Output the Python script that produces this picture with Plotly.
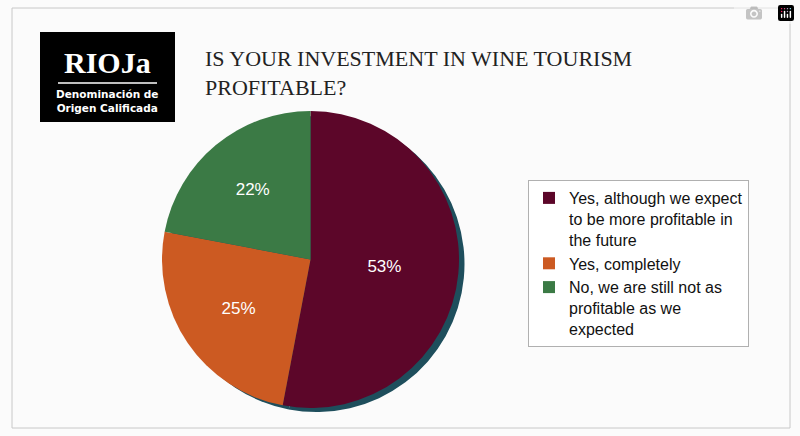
import plotly.graph_objects as go

labels = ["Yes, although we expect<br>to be more profitable in<br>the future", "Yes, completely",
          "No, we are still not as<br>profitable as we<br>expected"]
values = [53, 25, 22]
colors = ["#5c0629", "#cc5a22", "#3b7a45"]
text_labels = ["53%", "25%", "22%"]

W, H = 800, 436
def px(x): return x / W
def py(y): return 1 - y / H

fig = go.Figure()
fig.add_trace(go.Pie(values=values, sort=False, direction="clockwise", showlegend=False,
                     marker=dict(colors=["#1e4e5c"] * 3), textinfo="none", hoverinfo="skip",
                     domain=dict(x=[px(168), px(465)], y=[py(412), py(116)])))
fig.add_trace(go.Pie(labels=labels, values=values, sort=False, direction="clockwise",
                     marker=dict(colors=colors), text=text_labels, textinfo="text",
                     textposition="inside", insidetextorientation="horizontal",
                     textfont=dict(family="Liberation Sans, Arial", size=17, color="white"),
                     domain=dict(x=[px(162), px(459)], y=[py(408), py(111)])))

fig.update_layout(
    width=W, height=H, margin=dict(l=0, r=0, t=0, b=0),
    paper_bgcolor="#fbfbfb", plot_bgcolor="#fbfbfb",
    legend=dict(x=px(528), y=py(180), xanchor="left", yanchor="top", valign="top",
                bordercolor="#b0b0b0", borderwidth=1, bgcolor="white",
                font=dict(family="Liberation Sans, Arial", size=16, color="#111"),
                itemwidth=30, tracegroupgap=0),
    shapes=[
        dict(type="rect", xref="paper", yref="paper", x0=px(12), x1=px(790), y0=py(428), y1=py(8),
             line=dict(color="#c8c8c8", width=1), fillcolor="rgba(0,0,0,0)", layer="below"),
        dict(type="rect", xref="paper", yref="paper", x0=px(40), x1=px(175), y0=py(122), y1=py(32),
             line=dict(width=0), fillcolor="black"),
        dict(type="line", xref="paper", yref="paper", x0=px(58), x1=px(157), y0=py(83), y1=py(83),
             line=dict(color="white", width=1.5)),
    ],
    annotations=[
        dict(text="<b>RIOJa</b>", x=px(107), y=py(63), xref="paper", yref="paper", showarrow=False,
             xanchor="center", yanchor="middle",
             font=dict(family="Liberation Serif, Times New Roman", size=30, color="white")),
        dict(text="<b>Denominación de<br>Origen Calificada</b>", x=px(107), y=py(101), xref="paper", yref="paper",
             xanchor="center", yanchor="middle",
             showarrow=False, font=dict(family="DejaVu Sans, Arial", size=10.5, color="white")),
        dict(text="IS YOUR INVESTMENT IN WINE TOURISM<br>PROFITABLE?", x=px(203), y=py(44),
             xref="paper", yref="paper", xanchor="left", yanchor="top", align="left", showarrow=False,
             font=dict(family="Liberation Serif, Times New Roman", size=22, color="#222")),
    ],
)
fig.write_html("out.html", post_script="document.body.style.margin='0';")
